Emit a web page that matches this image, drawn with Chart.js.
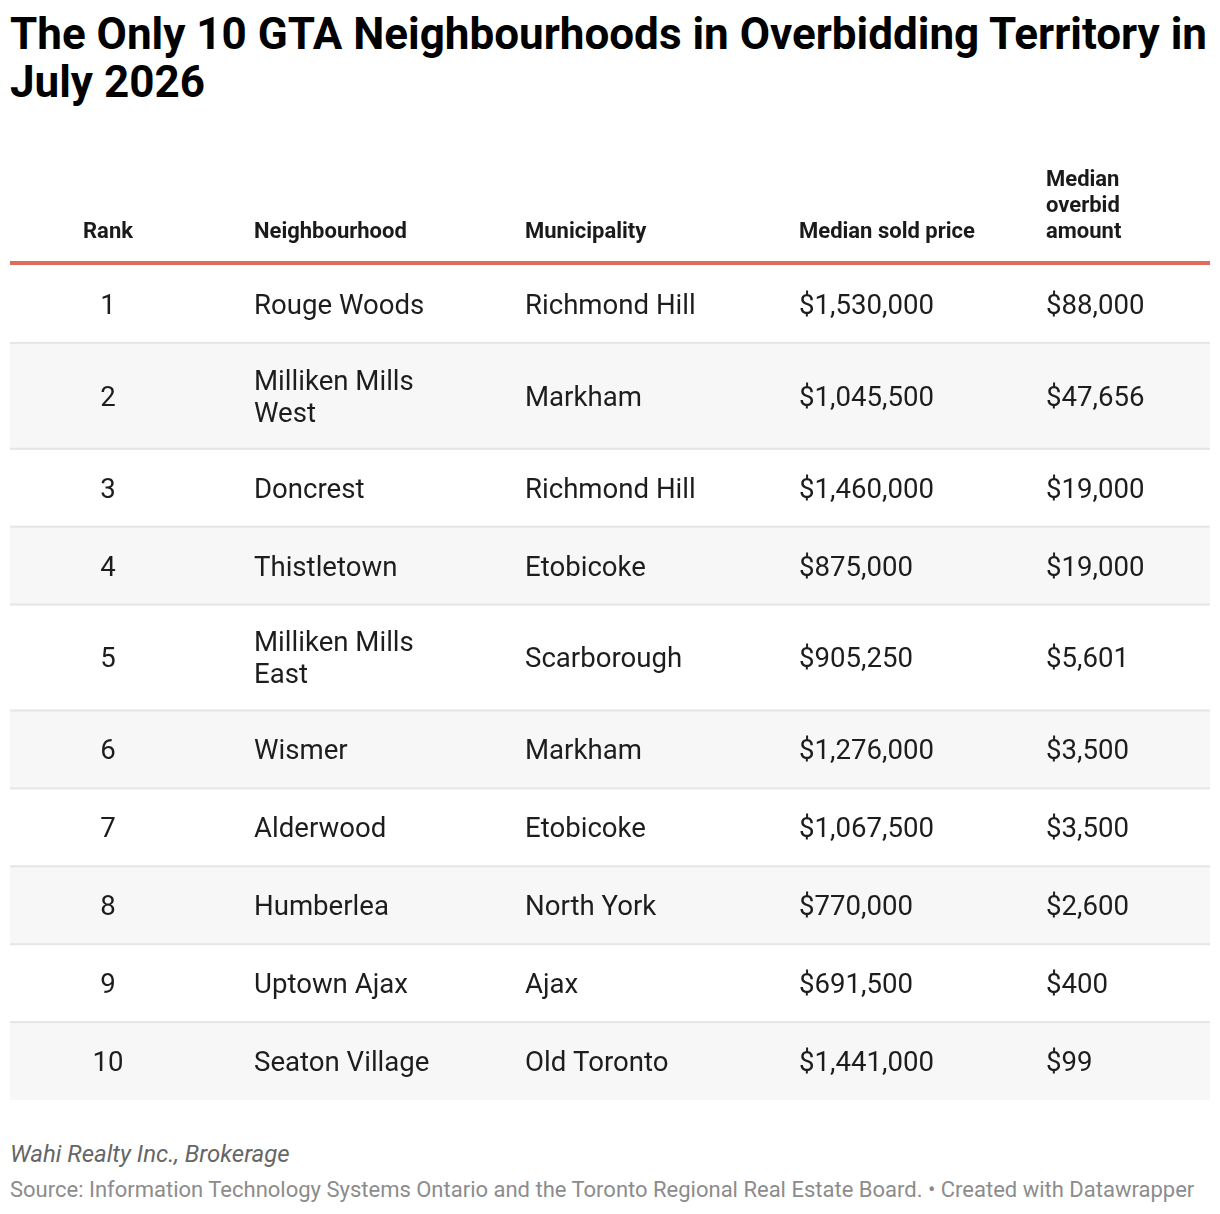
<!DOCTYPE html>
<html>
<head>
<meta charset="utf-8">
<script src="https://cdn.jsdelivr.net/npm/chart.js@4.4.1/dist/chart.umd.min.js"></script>
<style>
  html, body { margin: 0; padding: 0; background: #fff; }
  body { width: 1220px; height: 1214px; position: relative; font-family: Roboto, sans-serif; }
  #titulo { position: absolute; left: 10px; top: 10px; width: 1210px; margin: 0;
            font-size: 44px; line-height: 48px; font-weight: 700; color: #000; white-space: nowrap; }
  #contenedor { position: absolute; left: 0; top: 140px; width: 1220px; height: 970px; }
  #nota { position: absolute; left: 10px; top: 1140px; font-size: 24px; font-style: italic; color: #666; }
  #fuente { position: absolute; left: 10px; top: 1177px; font-size: 22px; color: #8c8c8c; white-space: nowrap; }
</style>
</head>
<body>
<h1 id="titulo">The Only 10 GTA Neighbourhoods in Overbidding Territory in<br>July 2026</h1>
<div id="contenedor"><canvas id="tabla"></canvas></div>
<div id="nota">Wahi Realty Inc., Brokerage</div>
<div id="fuente">Source: Information Technology Systems Ontario and the Toronto Regional Real Estate Board. • Created with Datawrapper</div>

<script>
// Datos de la tabla
var encabezados = ['Rank', 'Neighbourhood', 'Municipality', 'Median sold price', ['Median', 'overbid', 'amount']];
var ranking = [1, 2, 3, 4, 5, 6, 7, 8, 9, 10];
var barrios = [['Rouge Woods'], ['Milliken Mills', 'West'], ['Doncrest'], ['Thistletown'], ['Milliken Mills', 'East'],
               ['Wismer'], ['Alderwood'], ['Humberlea'], ['Uptown Ajax'], ['Seaton Village']];
var municipios = ['Richmond Hill', 'Markham', 'Richmond Hill', 'Etobicoke', 'Scarborough',
                  'Markham', 'Etobicoke', 'North York', 'Ajax', 'Old Toronto'];
var precioVenta = [1530000, 1045500, 1460000, 875000, 905250, 1276000, 1067500, 770000, 691500, 1441000];
var sobrepuja = [88000, 47656, 19000, 19000, 5601, 3500, 3500, 2600, 400, 99];

// Altura de cada fila según el número de líneas del barrio
var altoBase = 78, altoLinea = 28;
var inicioFila = [], finFila = [];
var acumulado = 0;
barrios.forEach(function(b) {
    inicioFila.push(acumulado);
    acumulado += altoBase + (b.length - 1) * altoLinea;
    finFila.push(acumulado);
});
var centros = inicioFila.map(function(v, i) { return (v + finFila[i]) / 2; });

// Posiciones de columna en unidades del eje x (0..1200)
var columnas = [98, 244, 515, 789, 1036];

function dinero(v) {
    return '$' + v.toLocaleString('en-US');
}

var pluginTabla = {
    id: 'pluginTabla',
    beforeDatasetsDraw: function(chart) {
        var ctx = chart.ctx;
        var x = chart.scales.x, y = chart.scales.y;
        var izq = x.getPixelForValue(0), der = x.getPixelForValue(1200);
        ctx.save();
        // Filas alternas
        ranking.forEach(function(r, i) {
            var y0 = y.getPixelForValue(inicioFila[i]);
            var y1 = y.getPixelForValue(finFila[i]);
            if (i % 2 === 1) {
                ctx.fillStyle = '#f7f7f7';
                ctx.fillRect(izq, y0, der - izq, y1 - y0);
            }
        });
        // Separadores
        ctx.fillStyle = '#e5e5e5';
        for (var i = 1; i < ranking.length; i++) {
            var ys = y.getPixelForValue(inicioFila[i]);
            ctx.fillRect(izq, ys - 1, der - izq, 2);
        }
        // Línea roja bajo el encabezado
        var top = y.getPixelForValue(0);
        ctx.fillStyle = '#e06b5c';
        ctx.fillRect(izq, top - 4, der - izq, 4);

        // Encabezados
        ctx.fillStyle = '#1a1a1a';
        ctx.font = '700 22px Roboto';
        ctx.textBaseline = 'middle';
        encabezados.forEach(function(h, c) {
            var lineas = Array.isArray(h) ? h : [h];
            ctx.textAlign = c === 0 ? 'center' : 'left';
            var px = x.getPixelForValue(columnas[c]);
            lineas.forEach(function(t, k) {
                var py = top - 33 - (lineas.length - 1 - k) * 26;
                ctx.fillText(t, px, py);
            });
        });

        // Celdas
        ctx.font = '400 27.6px Roboto';
        ctx.fillStyle = '#1d1d1d';
        ranking.forEach(function(r, i) {
            var cy = y.getPixelForValue(centros[i]) + 3;
            ctx.textAlign = 'center';
            ctx.fillText(String(r), x.getPixelForValue(columnas[0]), cy);
            ctx.textAlign = 'left';
            var n = barrios[i].length;
            barrios[i].forEach(function(t, k) {
                ctx.fillText(t, x.getPixelForValue(columnas[1]), cy + (k - (n - 1) / 2) * 32);
            });
            ctx.fillText(municipios[i], x.getPixelForValue(columnas[2]), cy);
            ctx.fillText(dinero(precioVenta[i]), x.getPixelForValue(columnas[3]), cy);
            ctx.fillText(dinero(sobrepuja[i]), x.getPixelForValue(columnas[4]), cy);
        });
        ctx.restore();
    }
};

var ctxTabla = document.getElementById('tabla').getContext('2d');
var miTabla = new Chart(ctxTabla, {
    type: 'scatter',
    data: {
        datasets: [{
            label: 'Filas',
            data: centros.map(function(c, i) { return { x: columnas[0], y: c }; }),
            pointRadius: 0
        }]
    },
    options: {
        responsive: true,
        maintainAspectRatio: false,
        animation: false,
        layout: { padding: { top: 125, bottom: 10, left: 10, right: 10 } },
        plugins: { legend: { display: false }, tooltip: { enabled: false } },
        scales: {
            x: { type: 'linear', min: 0, max: 1200, display: false },
            y: { type: 'linear', min: 0, max: acumulado, reverse: true, display: false }
        }
    },
    plugins: [pluginTabla]
});
</script>
</body>
</html>
